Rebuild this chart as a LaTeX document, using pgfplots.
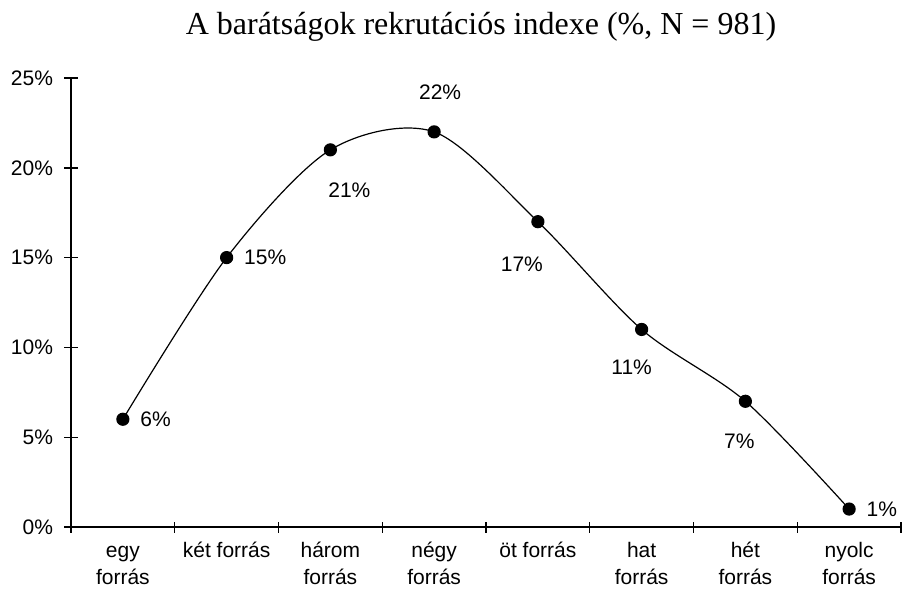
\documentclass[border=0pt]{standalone}
\usepackage{fontspec}
\setmainfont{Liberation Serif}
\newfontfamily\arial{Liberation Sans}
\usepackage{pgfplots}
\pgfplotsset{compat=1.18}
\begin{document}
\begin{tikzpicture}
\begin{axis}[
    name=ax,
    scale only axis, width=830pt, height=449pt,
    xmin=0.5, xmax=8.5, ymin=0, ymax=25,
    axis x line*=bottom, axis y line*=left,
    axis line style={line width=1.5pt, -},
    every tick/.style={black, line width=1.4pt},
    xtick align=center, ytick align=center,
    /pgf/number format/assume math mode=true,
    ticklabel style={font=\arial\fontsize{21}{27}\selectfont},
    ytick={0,5,...,25},
    yticklabel={\pgfmathprintnumber{\tick}\%},
    yticklabel style={xshift=-8pt},
    major tick length=13pt,
    xtick={1,...,8},
    major x tick style={draw=none},
    minor xtick={0.5,1.5,...,8.5},
    minor tick length=11pt,
    xticklabels={{\strut egy\\forrás},{\strut két forrás},{\strut három\\forrás},{\strut négy\\forrás},{\strut öt forrás},{\strut hat\\forrás},{\strut hét\\forrás},{\strut nyolc\\forrás}},
    xticklabel style={align=center, anchor=north, yshift=-2pt},
    clip=false,
]
\addplot[black, line width=1.2pt, smooth, tension=0.5, mark=*, mark size=6pt,
    mark options={fill=black}] coordinates {
    (1,6) (2,15) (3,21) (4,22) (5,17) (6,11) (7,7) (8,1)};
\begin{scope}[every node/.style={font=\arial\fontsize{21}{25}\selectfont}]
\node[anchor=west] at ([xshift=14pt]axis cs:1,6) {6\%};
\node[anchor=west] at ([xshift=14pt]axis cs:2,15) {15\%};
\node at ([xshift=19pt,yshift=-40pt]axis cs:3,21) {21\%};
\node at ([xshift=6pt,yshift=40pt]axis cs:4,22) {22\%};
\node at ([xshift=-16pt,yshift=-43pt]axis cs:5,17) {17\%};
\node at ([xshift=-10pt,yshift=-38pt]axis cs:6,11) {11\%};
\node at ([xshift=-6pt,yshift=-40pt]axis cs:7,7) {7\%};
\node[anchor=west] at ([xshift=14pt]axis cs:8,1) {1\%};
\end{scope}
\end{axis}
\node[font=\fontsize{32}{36}\selectfont] at ([xshift=-5pt,yshift=51pt]ax.north) {A barátságok rekrutációs indexe (\%, N = 981)};
\path ([shift={(-71pt,-73pt)}]ax.south west) rectangle ([shift={(1pt,78pt)}]ax.north east);
\end{tikzpicture}
\end{document}
